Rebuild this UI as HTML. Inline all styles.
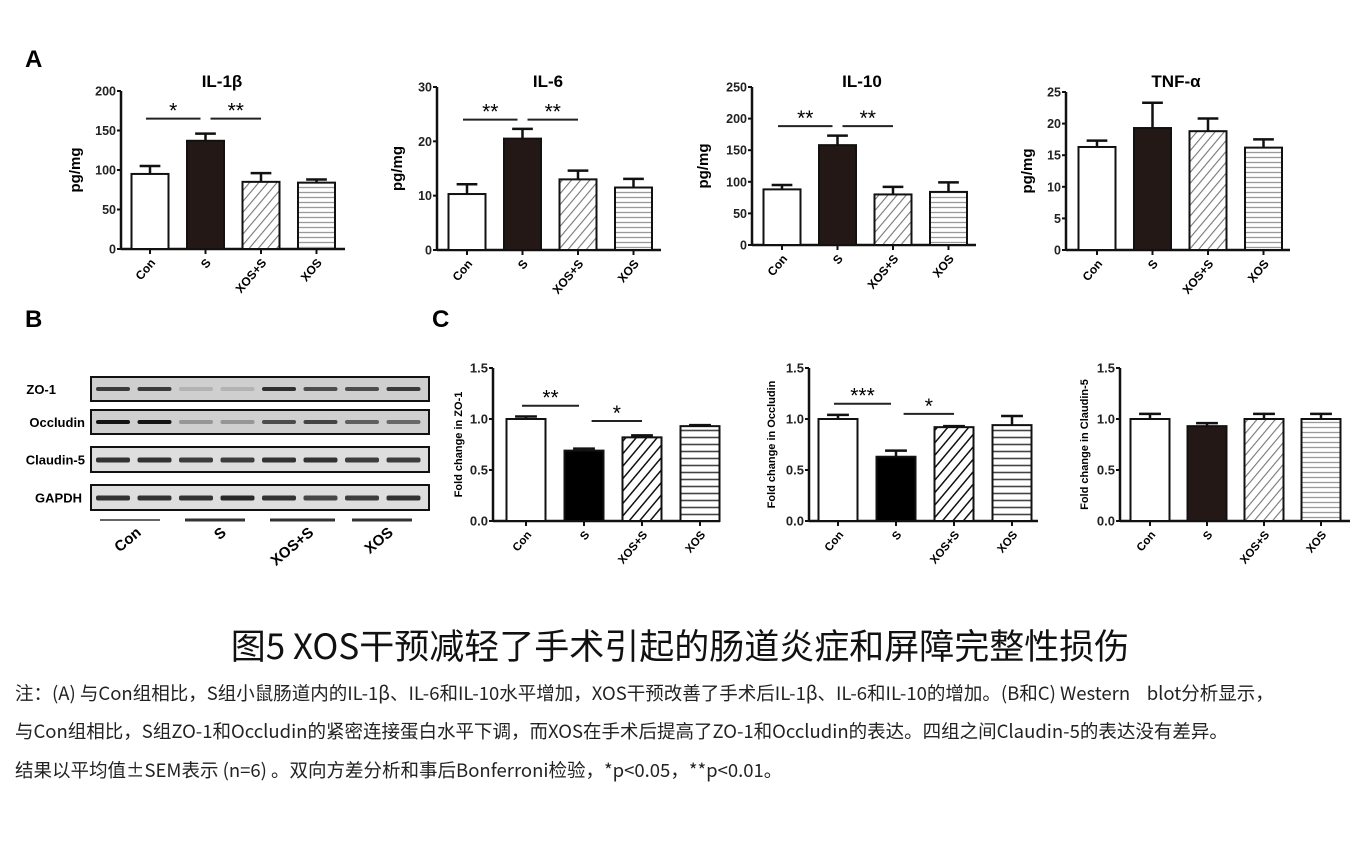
<!DOCTYPE html>
<html><head><meta charset="utf-8">
<style>
body{margin:0;background:#fff;width:1360px;height:855px;overflow:hidden;position:relative;font-family:"Noto Sans CJK SC","Liberation Sans",sans-serif}
svg{position:absolute;left:0;top:0}
.cap{position:absolute;left:0;width:1360px;text-align:center;top:622px;font-size:35px;color:#111;font-family:"Noto Sans CJK SC","Liberation Sans",sans-serif;line-height:1.3}
.note{position:absolute;left:15px;font-size:18.5px;color:#222;white-space:nowrap;font-family:"Noto Sans CJK SC","Liberation Sans",sans-serif;line-height:1.3}
</style></head><body>
<svg id="fig" width="1360" height="620">
<defs>
<pattern id="diag" patternUnits="userSpaceOnUse" width="7" height="7" patternTransform="rotate(40)"><rect width="7" height="7" fill="#fff"/><line x1="0" y1="0" x2="0" y2="7" stroke="#777" stroke-width="2.2"/></pattern>
<pattern id="diagDark" patternUnits="userSpaceOnUse" width="8" height="8" patternTransform="rotate(40)"><rect width="8" height="8" fill="#fff"/><line x1="0" y1="0" x2="0" y2="8" stroke="#111" stroke-width="3"/></pattern>
<pattern id="horiz" patternUnits="userSpaceOnUse" width="6" height="5"><rect width="6" height="5" fill="#fff"/><line x1="0" y1="2.5" x2="6" y2="2.5" stroke="#999" stroke-width="1.3"/></pattern>
<pattern id="horizDark" patternUnits="userSpaceOnUse" width="6" height="7"><rect width="6" height="7" fill="#fff"/><line x1="0" y1="3.5" x2="6" y2="3.5" stroke="#444" stroke-width="1.6"/></pattern>
</defs>
<text x="25" y="67" font-size="24" font-weight="bold" font-family="Liberation Sans">A</text>
<text x="25" y="327" font-size="24" font-weight="bold" font-family="Liberation Sans">B</text>
<text x="432" y="327" font-size="24" font-weight="bold" font-family="Liberation Sans">C</text>
</svg>
<div class="cap">图5 XOS干预减轻了手术引起的肠道炎症和屏障完整性损伤</div>
<div class="note" style="top:681px">注：(A) 与Con组相比，S组小鼠肠道内的IL-1β、IL-6和IL-10水平增加，XOS干预改善了手术后IL-1β、IL-6和IL-10的增加。(B和C) Western&nbsp;&nbsp;&nbsp;&nbsp;blot分析显示，</div>
<div class="note" style="top:719px">与Con组相比，S组ZO-1和Occludin的紧密连接蛋白水平下调，而XOS在手术后提高了ZO-1和Occludin的表达。四组之间Claudin-5的表达没有差异。</div>
<div class="note" style="top:758px">结果以平均值±SEM表示 (n=6) 。双向方差分析和事后Bonferroni检验，*p&lt;0.05，**p&lt;0.01。</div>
<script>
var groups=["Con","S","XOS+S","XOS"];
var il1bValues=[95,137,85,84];
var il1bErrors=[10,9,11,4];
var il1bTicks=[0,50,100,150,200];
var il6Values=[10.3,20.5,13,11.5];
var il6Errors=[1.8,1.8,1.6,1.6];
var il6Ticks=[0,10,20,30];
var il10Values=[88,158,80,84];
var il10Errors=[7,15,12,15];
var il10Ticks=[0,50,100,150,200,250];
var tnfValues=[16.3,19.3,18.8,16.2];
var tnfErrors=[1,4,2,1.3];
var tnfTicks=[0,5,10,15,20,25];
var zo1Values=[1.0,0.69,0.82,0.93];
var zo1Errors=[0.025,0.02,0.02,0.01];
var occValues=[1.0,0.63,0.92,0.94];
var occErrors=[0.04,0.06,0.01,0.09];
var claValues=[1.0,0.93,1.0,1.0];
var claErrors=[0.05,0.03,0.05,0.05];
var foldTicks=[0,0.5,1.0,1.5];
var il1bSig=[[0,1,165,"*"],[1,2,165,"**"]];
var il6Sig=[[0,1,24,"**"],[1,2,24,"**"]];
var il10Sig=[[0,1,188,"**"],[1,2,188,"**"]];
var zo1Sig=[[0,1,1.13,"**"],[1.2,2,0.98,"*"]];
var occSig=[[0,1,1.15,"***"],[1.2,2,1.05,"*"]];

var svg=document.getElementById('fig');
var NS="http://www.w3.org/2000/svg";
function mk(t,a,txt){var e=document.createElementNS(NS,t);for(var k in a)e.setAttribute(k,a[k]);if(txt!==undefined)e.textContent=txt;svg.appendChild(e);return e;}

function chart(o){
  var name=o.name;
  function yS(v){return o.y0-(v/o.max)*(o.y0-o.yTop);}
  function xS(i){return o.x1+i*o.step;}
  var ax=mk('line',{x1:o.ax,y1:o.yTop,x2:o.ax,y2:o.y0+1,stroke:'#111','stroke-width':2.5});
  
  
  var xa=mk('line',{x1:o.ax,y1:o.y0,x2:o.xEnd,y2:o.y0,stroke:'#111','stroke-width':2.5});
  
  
  o.ticks.forEach(function(t){
    var y=yS(t);
    mk('line',{x1:o.ax-4,y1:y,x2:o.ax,y2:y,stroke:'#111','stroke-width':2});
    var lbl=mk('text',{x:o.ax-5,y:y+4.5,'text-anchor':'end','font-size':o.tf||12.5,'font-family':'Liberation Sans','font-weight':'bold',fill:'#222'},o.tickFmt?o.tickFmt(t):String(t));
    
    
  });
  var fills=o.dark?['#fff','#000','url(#diagDark)','url(#horizDark)']:['#fff',o.sFill||'#231815','url(#diag)','url(#horiz)'];
  o.values.forEach(function(v,i){
    var cx=xS(i),top=yS(v);
    var r=mk('rect',{x:cx-o.bw/2,y:top,width:o.bw,height:o.y0-top,fill:fills[i],stroke:'#111','stroke-width':2});
    
    
    var et=yS(v+o.errors[i]);
    var cw=o.bw*0.28;
    var eb=mk('path',{d:'M'+cx+' '+top+'V'+et+'M'+(cx-cw)+' '+et+'H'+(cx+cw),stroke:'#111','stroke-width':2.5,fill:'none'});
    
    
    mk('line',{x1:cx,y1:o.y0,x2:cx,y2:o.y0+5,stroke:'#111','stroke-width':2});
    var tl=mk('text',{x:cx+6,y:o.y0+14,'text-anchor':'end','font-size':o.lf||12,'font-weight':'bold','font-family':'Liberation Sans',transform:'rotate(-50 '+(cx+6)+' '+(o.y0+14)+')'},groups[i]);
    
    
  });
  var yt=mk('text',{x:0,y:0,'text-anchor':'middle','font-size':o.ytSize||15,'font-weight':'bold','font-family':'Liberation Sans',transform:'translate('+o.ytX+','+((o.y0+o.yTop)/2)+') rotate(-90)'},o.yTitle);
  
  
  if(o.title){var tt=mk('text',{x:o.titleX,y:87,'text-anchor':'middle','font-size':17,'font-weight':'bold','font-family':'Liberation Sans'},o.title);
    
    }
  (o.sig||[]).forEach(function(s){
    var xa=xS(s[0])-4,xb=xS(s[1])+ (s[1]===1?-5:0),y=yS(s[2]);
    if(s[0]===1){xa=xS(1)+5;xb=xS(2);}
    var l=mk('line',{x1:xa,y1:y,x2:xb,y2:y,stroke:'#222','stroke-width':2});
    
    
    var st=mk('text',{x:(xa+xb)/2,y:y-1,'text-anchor':'middle','font-size':21,'font-family':'Liberation Sans'},s[3]);
    
    
  });
}
var f1=function(t){return t.toFixed(1);};
chart({name:'il1b',values:il1bValues,errors:il1bErrors,ticks:il1bTicks,max:200,ax:121,xEnd:345,y0:249,yTop:91,x1:150,step:55.5,bw:37,yTitle:'pg/mg',ytX:80,title:'IL-1β',titleX:222,sig:il1bSig});
chart({name:'il6',values:il6Values,errors:il6Errors,ticks:il6Ticks,max:30,ax:437,xEnd:661,y0:250,yTop:87,x1:467,step:55.5,bw:37,yTitle:'pg/mg',ytX:402,title:'IL-6',titleX:548,sig:il6Sig});
chart({name:'il10',values:il10Values,errors:il10Errors,ticks:il10Ticks,max:250,ax:752,xEnd:976,y0:245,yTop:87,x1:782,step:55.5,bw:37,yTitle:'pg/mg',ytX:708,title:'IL-10',titleX:862,sig:il10Sig});
chart({name:'tnf',values:tnfValues,errors:tnfErrors,ticks:tnfTicks,max:25,ax:1066,xEnd:1290,y0:250,yTop:92,x1:1097,step:55.5,bw:37,yTitle:'pg/mg',ytX:1032,title:'TNF-α',titleX:1176});
chart({name:'zo1',values:zo1Values,errors:zo1Errors,ticks:foldTicks,tickFmt:f1,max:1.5,ax:493,xEnd:720,y0:521,yTop:368,x1:526,step:58,bw:39,yTitle:'Fold change in ZO-1',ytX:462,ytSize:11,tf:13,dark:true,lf:11.5,sig:zo1Sig});
chart({name:'occludin',values:occValues,errors:occErrors,ticks:foldTicks,tickFmt:f1,max:1.5,ax:809,xEnd:1038,y0:521,yTop:368,x1:838,step:58,bw:39,yTitle:'Fold change in Occludin',ytX:775,ytSize:11,tf:13,dark:true,lf:11.5,sig:occSig});
chart({name:'claudin5',values:claValues,errors:claErrors,ticks:foldTicks,tickFmt:f1,max:1.5,ax:1120,xEnd:1350,y0:521,yTop:368,x1:1150,step:57,bw:39,yTitle:'Fold change in Claudin-5',ytX:1088,ytSize:11,tf:13,lf:11.5});

// Western blot
var blotRows=["ZO-1","Occludin","Claudin-5","GAPDH"];
var blotTops=[377,410,447,485];
var bandDark=[[.8,.8,.15,.15,.85,.7,.7,.8],[1,1,.3,.3,.7,.75,.6,.55],[.85,.85,.8,.8,.85,.85,.8,.8],[.85,.85,.85,.9,.85,.75,.8,.85]];
blotRows.forEach(function(r,ri){
  var y=blotTops[ri],h=ri===0?24:(ri===1?24:25);
  var b=mk('rect',{x:91,y:y,width:338,height:h,fill:ri<2?'#cfcfcf':'#dedede',stroke:'#111','stroke-width':2});
  
  
  var l=mk('text',{x:ri===0?56:(ri===2?85:(ri===3?82:85)),y:y+h/2+5,'text-anchor':'end','font-size':13,'font-weight':'bold','font-family':'Liberation Sans'},r);
  
  
  for(var k=0;k<8;k++){
    var cx=113+k*41.5,d=bandDark[ri][k];
    mk('rect',{x:cx-17,y:y+h/2-2,width:34,height:ri>=2?5:4,rx:2,fill:'rgba(20,20,20,'+d+')'});
  }
});
var gl=[[100,160,"Con"],[185,245,"S"],[270,335,"XOS+S"],[352,412,"XOS"]];
gl.forEach(function(g){
  mk('line',{x1:g[0],y1:520,x2:g[1],y2:520,stroke:'#333','stroke-width':g[2]==="Con"?1.5:3});
  var cx=(g[0]+g[1])/2+12;
  var t=mk('text',{x:cx,y:534,'text-anchor':'end','font-size':15,'font-weight':'bold','font-family':'Liberation Sans',transform:'rotate(-40 '+cx+' 534)'},g[2]);
  
  
});
</script>
</body></html>
